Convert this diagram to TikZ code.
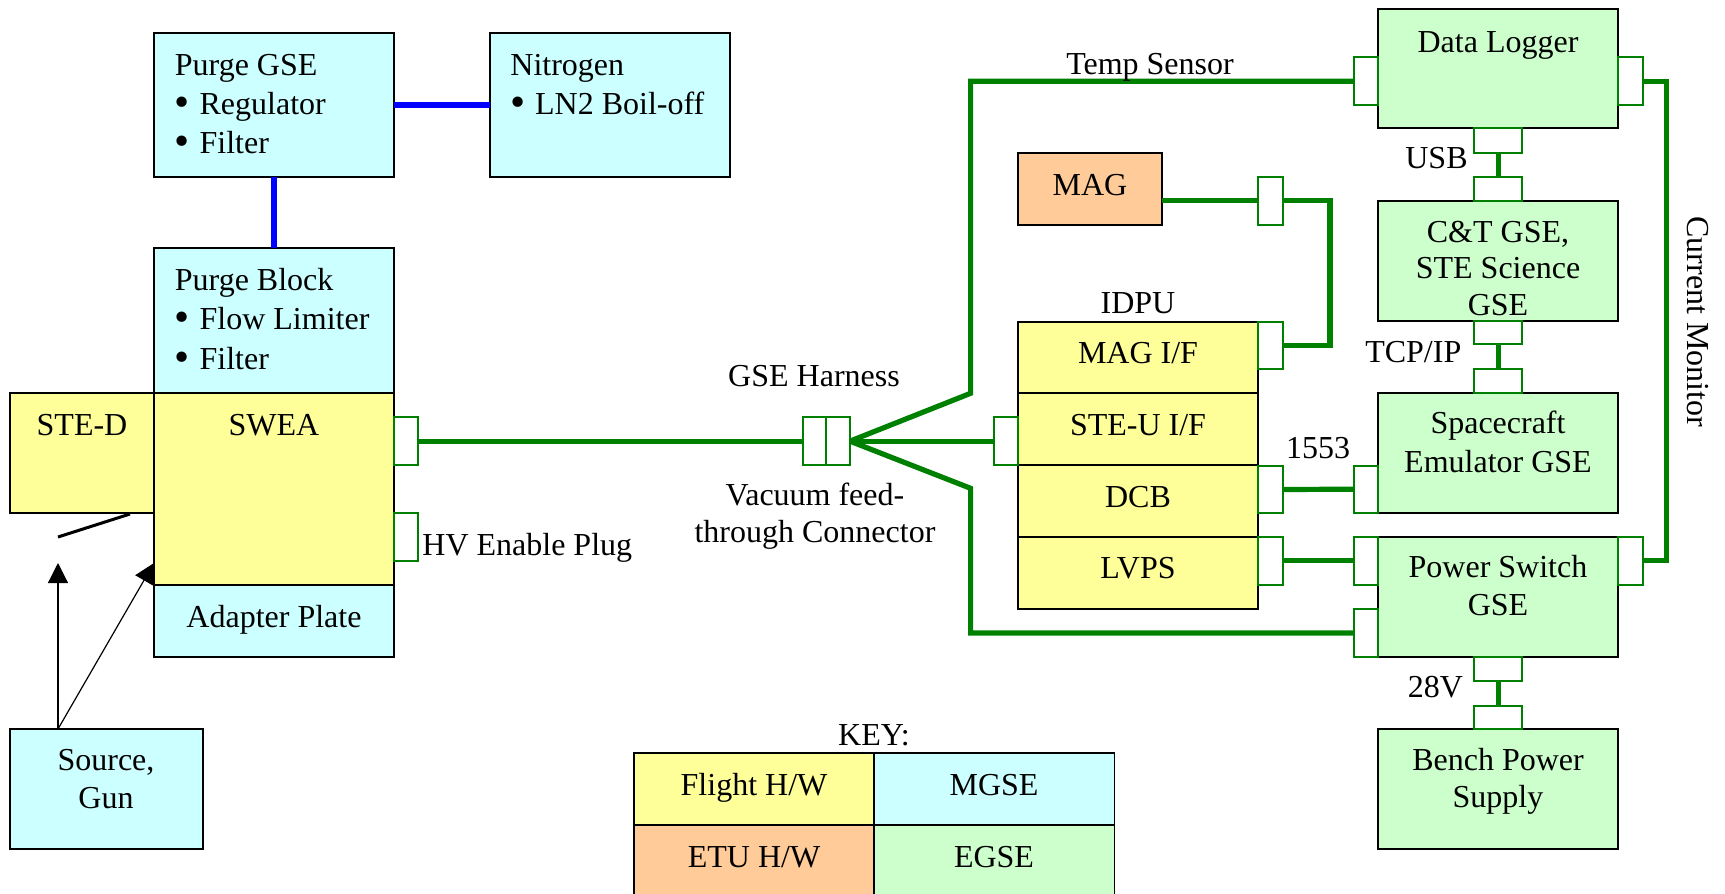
\documentclass[tikz,border=0pt]{standalone}
\usepackage{fontspec}
\usepackage{graphicx}
\setmainfont{Liberation Serif}
\usetikzlibrary{fit,arrows.meta}
\definecolor{cFlight}{HTML}{FFFF99}
\definecolor{cMGSE}{HTML}{CCFFFF}
\definecolor{cEGSE}{HTML}{CCFFCC}
\definecolor{cETU}{HTML}{FFCC99}
\definecolor{cWire}{HTML}{008000}
\definecolor{cPipe}{HTML}{0000FF}
\tikzset{
  box/.style={draw=black, line width=0.9pt, inner sep=0pt, outer sep=0pt},
  yel/.style={box, fill=cFlight},
  cy/.style={box, fill=cMGSE},
  gr/.style={box, fill=cEGSE},
  etu/.style={box, fill=cETU},
  conn/.style={draw=cWire, fill=white, line width=1pt, inner sep=0pt, outer sep=0pt},
  wire/.style={draw=cWire, line width=2.6pt},
  pipe/.style={draw=cPipe, line width=2.7pt},
  arr/.style={draw=black, line width=0.6pt, -{Triangle[length=10pt,width=10pt]}},
  lbl/.style={inner sep=0pt, anchor=base, yshift=-1pt},
  lbll/.style={inner sep=0pt, anchor=base west, yshift=-1pt},
  lblr/.style={inner sep=0pt, anchor=base east, yshift=-1pt},
}
\newcommand{\bul}{\raisebox{-0.08em}{\scalebox{1.35}{\textbullet}}\hspace{0.3em}}
\begin{document}
\begin{tikzpicture}[x=0.5pt,y=-0.5pt, every node/.style={font=\fontsize{16}{19}\selectfont}]
\useasboundingbox (0,0) rectangle (1725,894);

% boxes
\node[cy, fit={(154,33.3)(394,176.7)}] (pgse) {};
\node[cy, fit={(490,33.3)(730,176.7)}] (n2) {};
\node[cy, fit={(154,248.3)(394,393)}] (pblk) {};
\node[yel, fit={(10,393)(154,512.7)}] (sted) {};
\node[yel, fit={(154,393)(394,585)}] (swea) {};
\node[cy, fit={(154,585)(394,656.7)}] (adp) {};
\node[cy, fit={(10,729)(202.6,849)}] (src) {};
\node[etu, fit={(1017.6,153.3)(1162.3,225)}] (mag) {};
\node[yel, fit={(1017.6,321.7)(1258,393.3)}] (magif) {};
\node[yel, fit={(1017.6,393.3)(1258,465)}] (steuif) {};
\node[yel, fit={(1017.6,465)(1258,536.7)}] (dcb) {};
\node[yel, fit={(1017.6,536.7)(1258,609)}] (lvps) {};
\node[gr, fit={(1378.3,9)(1618.3,128.3)}] (dl) {};
\node[gr, fit={(1378.3,200.7)(1618.3,320.7)}] (ct) {};
\node[gr, fit={(1378.3,393.3)(1618.3,512.7)}] (sc) {};
\node[gr, fit={(1378.3,536.7)(1618.3,656.7)}] (ps) {};
\node[gr, fit={(1378.3,729)(1618.3,849)}] (bp) {};
% key
\node[yel, fit={(634,753.3)(874,825)}] (kfl) {};
\node[cy, fit={(874,753.3)(1114.5,825)}] (kmg) {};
\node[etu, fit={(634,825)(874,897)}] (ket) {};
\node[gr, fit={(874,825)(1114.5,897)}] (keg) {};

% connectors
\node[conn, fit={(394,417.3)(418,465)}] (swc) {};
\node[conn, fit={(394,513.3)(418,561)}] (hvc) {};
\node[conn, fit={(802.6,417.3)(826.3,465)}] (vac1) {};
\node[conn, fit={(826.3,417.3)(850,465)}] (vac2) {};
\node[conn, fit={(994,417.3)(1017.6,465)}] (steuc) {};
\node[conn, fit={(1258,176.7)(1282.5,225)}] (magc) {};
\node[conn, fit={(1258,321.7)(1282.5,369)}] (magifc) {};
\node[conn, fit={(1258,465.7)(1282.5,513.3)}] (dcbc) {};
\node[conn, fit={(1258,536.7)(1282.5,585)}] (lvpsc) {};
\node[conn, fit={(1354,57.3)(1378.3,105)}] (dllc) {};
\node[conn, fit={(1618.3,57.3)(1642.7,105)}] (dlrc) {};
\node[conn, fit={(1474,128.3)(1522.3,153.3)}] (dlb) {};
\node[conn, fit={(1474,177.3)(1522.3,200.7)}] (ctt) {};
\node[conn, fit={(1474,320.7)(1522.3,344)}] (ctb) {};
\node[conn, fit={(1474,369)(1522.3,393.3)}] (sct) {};
\node[conn, fit={(1354,465.7)(1378.3,512.7)}] (scl) {};
\node[conn, fit={(1354,536.7)(1378.3,585)}] (psl1) {};
\node[conn, fit={(1354,609.3)(1378.3,656.7)}] (psl2) {};
\node[conn, fit={(1618.3,536.7)(1642.7,585)}] (psrc) {};
\node[conn, fit={(1474,656.7)(1522.3,681)}] (psb) {};
\node[conn, fit={(1474,705.7)(1522.3,729)}] (bpt) {};

% wires
\coordinate (tb1) at (970.6,393.3);
\coordinate (tb2) at (970.6,488.3);
\coordinate (mk) at (1330,270);
\coordinate (cm) at (1666.7,300);
\draw[wire] (swc.east) -- (vac1.west);
\draw[wire] (vac2.east) -- (steuc.west);
\draw[wire] (vac2.east) -- (tb1) |- (dllc.west);
\draw[wire] (vac2.east) -- (tb2) |- (psl2.west);
\draw[wire] (magc.west -| mag.east) -- (magc.west);
\draw[wire] (magc.east) -| (mk) |- (magifc.east);
\draw[wire] (dcbc.east) -- (scl.west);
\draw[wire] (lvpsc.east) -- (psl1.west);
\draw[wire] (dlrc.east) -| (cm) |- (psrc.east);
\draw[wire] (dlb.south) -- (ctt.north);
\draw[wire] (ctb.south) -- (sct.north);
\draw[wire] (psb.south) -- (bpt.north);
% purge lines
\draw[pipe] (pgse.east) -- (n2.west);
\draw[pipe] (pgse.south) -- (pblk.north);

% source arrows and shutter
\coordinate (srcA) at (58,729);
\coordinate (aimA) at (58,563);
\coordinate (aimB) at (154,563);
\coordinate (sh1) at (58,537);
\coordinate (sh2) at (130,514);
\draw[arr] (srcA) -- (aimA);
\draw[arr] (srcA) -- (aimB);
\draw[line width=1.5pt] (sh1) -- (sh2);

% texts
\node[lbll] (t1) at (174.5,73) {Purge GSE};
\node[lbll] (t2) at (174.5,112) {\bul Regulator};
\node[lbll] (t3) at (174.5,151) {\bul Filter};
\node[lbll] (t4) at (510,73) {Nitrogen};
\node[lbll] (t5) at (510,112) {\bul LN2 Boil-off};
\node[lbll] (t6) at (174.5,288) {Purge Block};
\node[lbll] (t7) at (174.5,327) {\bul Flow Limiter};
\node[lbll] (t8) at (174.5,367) {\bul Filter};
\node[lbl] (t9) at (82,433) {STE-D};
\node[lbl] (t10) at (274,433) {SWEA};
\node[lbl] (t11) at (274,625) {Adapter Plate};
\node[lbll] (t12) at (422,553) {HV Enable Plug};
\node[lbl] (t13) at (106,768) {Source,};
\node[lbl] (t14) at (106,806.7) {Gun};
\node[lbl] (t15) at (814,384) {GSE Harness};
\node[lbl] (t16) at (815,503) {Vacuum feed-};
\node[lbl] (t17) at (815,540) {through Connector};
\node[lbl] (t18) at (1150,72.7) {Temp Sensor};
\node[lbl] (t19) at (1090,193.3) {MAG};
\node[lbl] (t20) at (1138,311.7) {IDPU};
\node[lbl] (t21) at (1138,361.7) {MAG I/F};
\node[lbl] (t22) at (1138,433.3) {STE-U I/F};
\node[lbl] (t23) at (1138,505) {DCB};
\node[lbl] (t24) at (1138,576.7) {LVPS};
\node[lbl] (t25) at (1498,50) {Data Logger};
\node[lblr] (t26) at (1468,166.7) {USB};
\node[lbl] (t27) at (1498,240.7) {C\&T GSE,};
\node[lbl] (t28) at (1498,276.7) {STE Science};
\node[lbl] (t29) at (1498,313.3) {GSE};
\node[lblr] (t30) at (1461.7,360) {TCP/IP};
\node[lbl] (t31) at (1318,456.7) {1553};
\node[lbl] (t32) at (1498,431.7) {Spacecraft};
\node[lbl] (t33) at (1498,470) {Emulator GSE};
\node[lbl] (t34) at (1498,575) {Power Switch};
\node[lbl] (t35) at (1498,613.3) {GSE};
\node[lblr] (t36) at (1463.3,695) {28V};
\node[lbl] (t37) at (1498,768.3) {Bench Power};
\node[lbl] (t38) at (1498,805) {Supply};
\node[inner sep=0pt, anchor=base, rotate=-90] (t39) at (1687,321.7) {Current Monitor};
\node[lbl] (t40) at (874,743.3) {KEY:};
\node[lbl] (t41) at (754,793.3) {Flight H/W};
\node[lbl] (t42) at (994,793.3) {MGSE};
\node[lbl] (t43) at (754,865) {ETU H/W};
\node[lbl] (t44) at (994,865) {EGSE};
\end{tikzpicture}
\end{document}
